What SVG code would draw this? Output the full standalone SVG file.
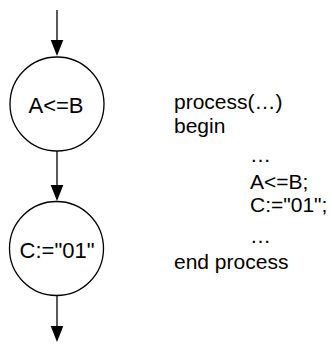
<svg xmlns="http://www.w3.org/2000/svg" width="332" height="345" viewBox="0 0 332 345">
<style>
.node{fill:#fff;stroke:#000;stroke-width:1.3}
.lbl{font-family:"Liberation Sans",Arial,sans-serif;font-size:22px;fill:#000;text-anchor:middle}
.code{font-family:"Liberation Sans",Arial,sans-serif;font-size:21px;fill:#000}
.edge{stroke:#000;stroke-width:1.3;fill:none}
.head{fill:#000;stroke:none}
</style>
<g id="connectors">
<line class="edge" x1="57" y1="10" x2="57" y2="42"/>
<polygon class="head" points="50.7,40 63.3,40 57,56"/>
<line class="edge" x1="57" y1="151" x2="57" y2="187"/>
<polygon class="head" points="50.7,185 63.3,185 57,201"/>
<line class="edge" x1="57" y1="296" x2="57" y2="328"/>
<polygon class="head" points="50.7,326 63.3,326 57,342"/>
</g>
<g id="node1">
<circle class="node" cx="57" cy="104" r="47"/>
<text class="lbl" x="56" y="113">A&lt;=B</text>
</g>
<g id="node2">
<circle class="node" cx="56.5" cy="248.5" r="47"/>
<text class="lbl" x="57" y="258">C:="01"</text>
</g>
<g id="code">
<text class="code" x="174" y="108.5">process(…)</text>
<text class="code" x="174" y="133">begin</text>
<text class="code" x="250" y="162">…</text>
<text class="code" x="250" y="188.5">A&lt;=B;</text>
<text class="code" x="250" y="212">C:="01";</text>
<text class="code" x="250" y="243">…</text>
<text class="code" x="174" y="268.5">end process</text>
</g>
</svg>
